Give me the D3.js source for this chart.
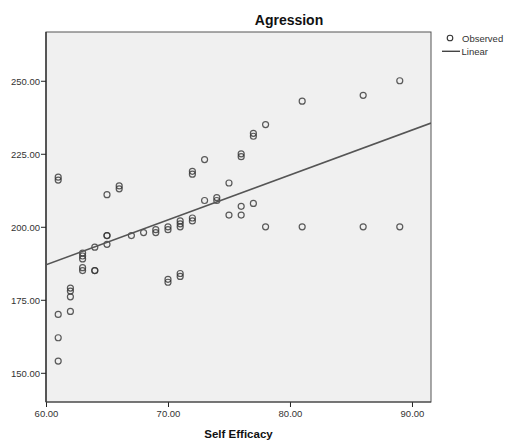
<!DOCTYPE html>
<html>
<head>
<meta charset="utf-8">
<script src="https://cdn.jsdelivr.net/npm/d3@7"></script>
<style>
  html, body { margin: 0; padding: 0; background: #fff; }
  svg { display: block; font-family: Arial, "Liberation Sans", sans-serif; }
</style>
</head>
<body>
<div id="chart"></div>
<script>
// Self Efficacy (x) values and Agression (y) values, paired by index
const selfEfficacy = [
  61, 61, 61, 61, 61,
  62, 62, 62, 62,
  63, 63, 63, 63, 63,
  64, 64, 64,
  65, 65, 65, 65,
  66, 66,
  67,
  68,
  69, 69,
  70, 70, 70, 70,
  71, 71, 71, 71, 71,
  72, 72, 72, 72,
  73, 73,
  74, 74,
  75, 75,
  76, 76, 76, 76,
  77, 77, 77,
  78, 78,
  81, 81,
  86, 86,
  89, 89
];
const agression = [
  217, 216, 170, 162, 154,
  179, 178, 176, 171,
  191, 190, 189, 186, 185,
  193, 185, 185,
  211, 197, 197, 194,
  214, 213,
  197,
  198,
  199, 198,
  200, 199, 182, 181,
  202, 201, 200, 184, 183,
  219, 218, 203, 202,
  223, 209,
  210, 209,
  215, 204,
  225, 224, 207, 204,
  232, 231, 208,
  235, 200,
  243, 200,
  245, 200,
  250, 200
];
// Linear fit line (x ends, fitted y at those ends)
const fitX = [60, 91.56];
const fitY = [187.0, 235.5];

const xTicks = [60, 70, 80, 90];
const yTicks = [150, 175, 200, 225, 250];
const title = "Agression";
const xTitle = "Self Efficacy";
const legendLabels = ["Observed", "Linear"];

const W = 506, H = 441;
const plot = { left: 46, top: 32, right: 431, bottom: 402 };

const svg = d3.select("#chart").append("svg")
  .attr("width", W).attr("height", H);

const x = d3.scaleLinear().domain([60, 91.56]).range([plot.left, plot.right]);
const y = d3.scaleLinear().domain([140, 266.7]).range([plot.bottom, plot.top]);

// plot background
svg.append("rect")
  .attr("x", plot.left).attr("y", plot.top)
  .attr("width", plot.right - plot.left).attr("height", plot.bottom - plot.top)
  .attr("fill", "#f0f0f0").attr("stroke", "#555").attr("stroke-width", 1);

// clip
svg.append("clipPath").attr("id", "clip").append("rect")
  .attr("x", plot.left).attr("y", plot.top)
  .attr("width", plot.right - plot.left).attr("height", plot.bottom - plot.top);

// axes
const yAxis = svg.append("g")
  .attr("transform", `translate(${plot.left},0)`)
  .call(d3.axisLeft(y).tickValues(yTicks).tickFormat(d3.format(".2f")).tickSize(5).tickSizeOuter(0));
const xAxis = svg.append("g")
  .attr("transform", `translate(0,${plot.bottom})`)
  .call(d3.axisBottom(x).tickValues(xTicks).tickFormat(d3.format(".2f")).tickSize(5).tickSizeOuter(0));

[yAxis, xAxis].forEach(g => {
  g.select(".domain").remove();
  g.selectAll(".tick line").attr("stroke", "#222").attr("stroke-width", 1);
  g.selectAll(".tick text")
    .attr("fill", "#333")
    .style("font-family", "Arial, 'Liberation Sans', sans-serif")
    .style("font-size", "9.5px");
});
yAxis.selectAll(".tick text").attr("x", -6).attr("dy", "0.34em");
xAxis.selectAll(".tick text").attr("y", 8).attr("dy", "0.71em");

// left and bottom axis lines
svg.append("line")
  .attr("x1", plot.left).attr("x2", plot.left)
  .attr("y1", plot.top).attr("y2", plot.bottom)
  .attr("stroke", "#222").attr("stroke-width", 1.2);
svg.append("line")
  .attr("x1", plot.left).attr("x2", plot.right)
  .attr("y1", plot.bottom).attr("y2", plot.bottom)
  .attr("stroke", "#444").attr("stroke-width", 1.2);

const g = svg.append("g").attr("clip-path", "url(#clip)");

// points
const pts = selfEfficacy.map((d, i) => ({ x: d, y: agression[i] }));
g.selectAll("circle.obs").data(pts).enter().append("circle")
  .attr("class", "obs")
  .attr("cx", d => x(d.x)).attr("cy", d => y(d.y))
  .attr("r", 3)
  .attr("fill", "none")
  .attr("stroke", "#333")
  .attr("stroke-opacity", 0.8)
  .attr("stroke-width", 1.2);

// fit line
const fit = fitX.map((d, i) => [d, fitY[i]]);
g.append("path")
  .attr("d", d3.line().x(d => x(d[0])).y(d => y(d[1]))(fit))
  .attr("fill", "none").attr("stroke", "#555").attr("stroke-width", 1.6);

// title
svg.append("text")
  .attr("x", 289).attr("y", 25)
  .attr("text-anchor", "middle")
  .style("font-size", "14px").style("font-weight", "bold")
  .attr("fill", "#111")
  .text(title);

// x title
svg.append("text")
  .attr("x", (plot.left + plot.right) / 2).attr("y", 438)
  .attr("text-anchor", "middle")
  .style("font-size", "11.5px").style("font-weight", "bold")
  .attr("fill", "#111")
  .text(xTitle);

// legend
const lg = svg.append("g");
lg.append("circle")
  .attr("cx", 450).attr("cy", 38).attr("r", 2.8)
  .attr("fill", "none").attr("stroke", "#333").attr("stroke-width", 1.1);
lg.append("text")
  .attr("x", 462).attr("y", 41.5)
  .style("font-size", "9.5px").attr("fill", "#333")
  .text(legendLabels[0]);
lg.append("line")
  .attr("x1", 442).attr("x2", 460).attr("y1", 51.3).attr("y2", 51.3)
  .attr("stroke", "#444").attr("stroke-width", 1.4);
lg.append("text")
  .attr("x", 461.5).attr("y", 55)
  .style("font-size", "9.5px").attr("fill", "#333")
  .text(legendLabels[1]);
</script>
</body>
</html>
